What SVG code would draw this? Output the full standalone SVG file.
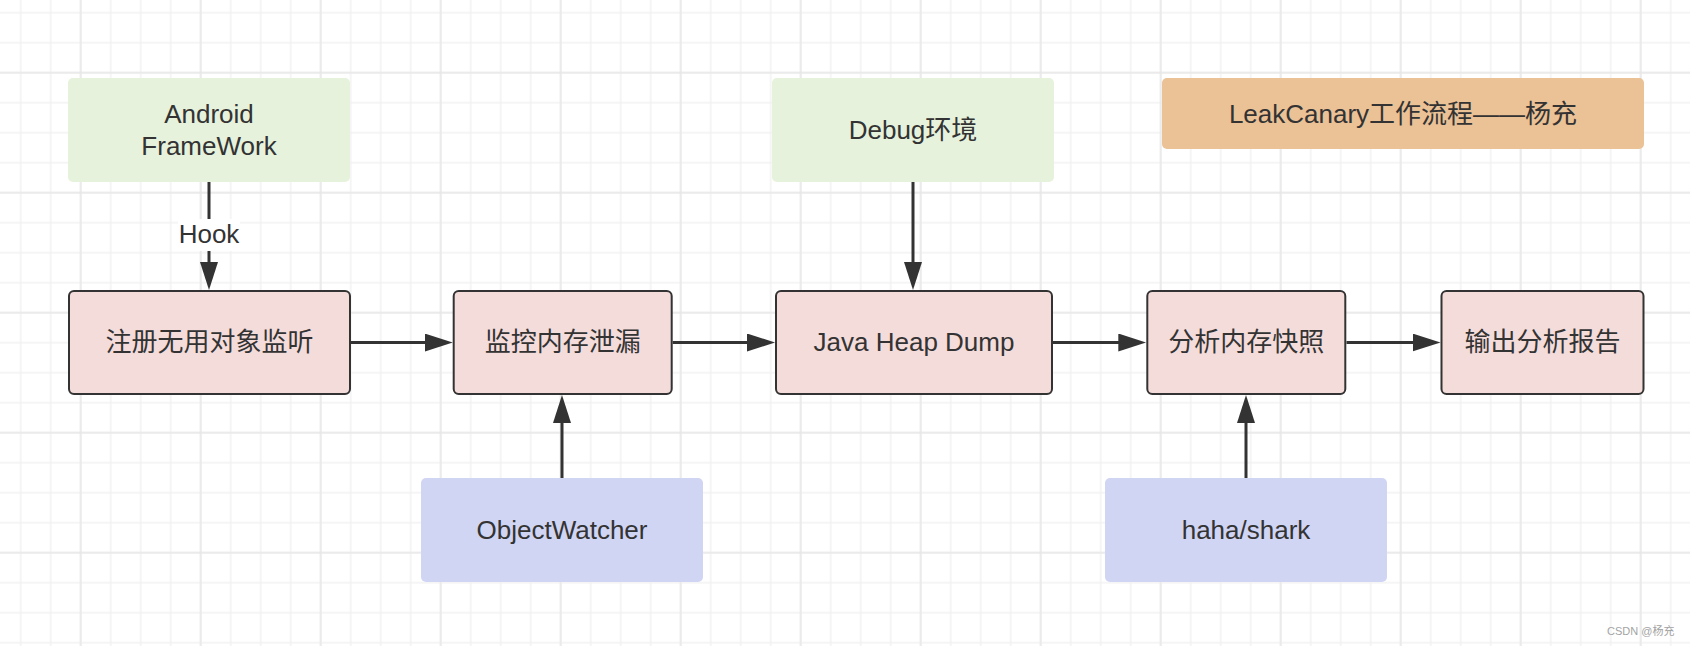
<svg xmlns="http://www.w3.org/2000/svg" width="1690" height="646" viewBox="0 0 1690 646">
  <style>
    .t { font-family: "Liberation Sans", "Noto Sans CJK SC", sans-serif; font-size: 26px; fill: #333333; text-anchor: middle; }
    .green { fill: #e6f2dc; }
    .pink { fill: #f4dcdb; stroke: #333333; stroke-width: 2; }
    .blue { fill: #d1d5f4; }
    .orange { fill: #ebc196; }
    .conn { stroke: #333333; stroke-width: 3; fill: none; }
    .wm { font-family: "Liberation Sans", "Noto Sans CJK SC", sans-serif; font-size: 11px; fill: #a3a3a3; }
  </style>
  <defs>
    <pattern id="minor" patternUnits="userSpaceOnUse" x="5.7" y="-2.3" width="30" height="30">
      <path d="M15 0 V30 M0 15 H30" stroke="#f2f2f2" stroke-width="1.5" fill="none"/>
    </pattern>
    <pattern id="major" patternUnits="userSpaceOnUse" x="20.7" y="12.7" width="120" height="120">
      <path d="M60 0 V120 M0 60 H120" stroke="#e7e7e7" stroke-width="1.5" fill="none"/>
    </pattern>
    <marker id="arr" viewBox="0 0 28 18" refX="18" refY="9" markerWidth="28" markerHeight="18" orient="auto" markerUnits="userSpaceOnUse">
      <path d="M0 0 L28 9 L0 18 Z" fill="#333333"/>
    </marker>
  </defs>

  <rect width="1690" height="646" fill="#ffffff"/>
  <rect width="1690" height="646" fill="url(#minor)"/>
  <rect width="1690" height="646" fill="url(#major)"/>

  <g id="connectors">
    <path class="conn" d="M209 182 V280" marker-end="url(#arr)"/>
    <path class="conn" d="M351 342.5 H442.7" marker-end="url(#arr)"/>
    <path class="conn" d="M672.7 342.5 H765" marker-end="url(#arr)"/>
    <path class="conn" d="M1053 342.5 H1136.3" marker-end="url(#arr)"/>
    <path class="conn" d="M1346.5 342.5 H1430.5" marker-end="url(#arr)"/>
    <path class="conn" d="M913 182 V280" marker-end="url(#arr)"/>
    <path class="conn" d="M562 478 V405" marker-end="url(#arr)"/>
    <path class="conn" d="M1246 478 V405" marker-end="url(#arr)"/>
    <g id="label-hook">
      <rect x="178" y="219" width="62" height="32" fill="#ffffff"/>
      <text class="t" x="209" y="243">Hook</text>
    </g>
  </g>

  <g id="node-android">
    <rect class="green" x="68" y="78" width="282" height="104" rx="5"/>
    <text class="t" x="209" y="122.5">Android</text>
    <text class="t" x="209" y="155">FrameWork</text>
  </g>
  <g id="node-debug">
    <rect class="green" x="772" y="78" width="282" height="104" rx="5"/>
    <text class="t" x="913" y="139">Debug环境</text>
  </g>
  <g id="node-title">
    <rect class="orange" x="1162" y="78" width="482" height="71" rx="5"/>
    <text class="t" x="1403" y="123">LeakCanary工作流程——杨充</text>
  </g>

  <g id="node-register">
    <rect class="pink" x="69" y="291" width="281" height="103" rx="5"/>
    <text class="t" x="209.5" y="351">注册无用对象监听</text>
  </g>
  <g id="node-monitor">
    <rect class="pink" x="453.7" y="291" width="218" height="103" rx="5"/>
    <text class="t" x="562.7" y="351">监控内存泄漏</text>
  </g>
  <g id="node-heapdump">
    <rect class="pink" x="776" y="291" width="276" height="103" rx="5"/>
    <text class="t" x="914" y="351">Java Heap Dump</text>
  </g>
  <g id="node-analyze">
    <rect class="pink" x="1147.3" y="291" width="198" height="103" rx="5"/>
    <text class="t" x="1246.3" y="351">分析内存快照</text>
  </g>
  <g id="node-report">
    <rect class="pink" x="1441.5" y="291" width="202" height="103" rx="5"/>
    <text class="t" x="1542.5" y="351">输出分析报告</text>
  </g>

  <g id="node-objectwatcher">
    <rect class="blue" x="421" y="478" width="282" height="104" rx="5"/>
    <text class="t" x="562" y="539">ObjectWatcher</text>
  </g>
  <g id="node-haha">
    <rect class="blue" x="1105" y="478" width="282" height="104" rx="5"/>
    <text class="t" x="1246" y="539">haha/shark</text>
  </g>

  <text class="wm" x="1607" y="635">CSDN @杨充</text>
</svg>
